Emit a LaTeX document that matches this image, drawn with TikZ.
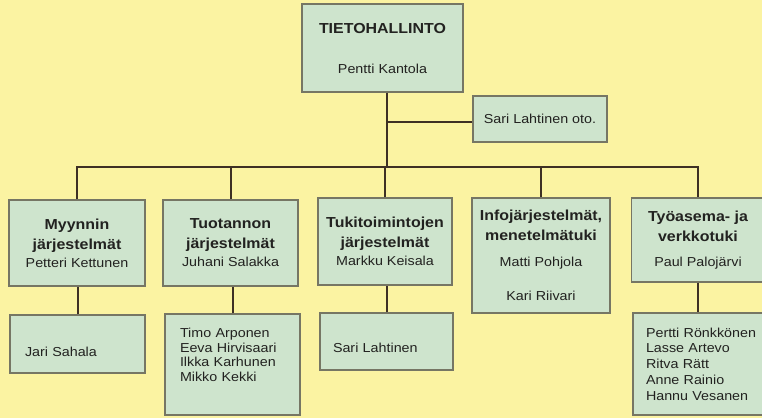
\documentclass[tikz,border=0pt]{standalone}
\usepackage{fontspec}
\setmainfont{Liberation Sans}[FakeStretch=1.1]
\definecolor{paper}{RGB}{251,243,162}
\definecolor{boxfill}{RGB}{206,228,205}
\definecolor{frame}{RGB}{118,118,100}
\definecolor{wire}{RGB}{62,48,36}
\definecolor{ink}{RGB}{34,34,32}
\newcommand{\dept}[1]{{\bfseries\fontsize{14.5}{20}\selectfont #1}}
\newcommand{\padtop}[1]{\rule{0pt}{#1}}
\newcommand{\padbot}[1]{\rule[-#1]{0pt}{#1}}
\hyphenpenalty=10000
\tikzset{
  unit/.style={draw=frame, fill=boxfill, line width=1.1pt, inner sep=0pt, align=center,
    text=ink, font=\fontsize{13}{20}\selectfont},
  staff/.style={unit, align=left, inner xsep=15pt},
  link/.style={draw=wire, line width=2pt},
}
\begin{document}
\begin{tikzpicture}[x=1pt, y=-1pt]
    \useasboundingbox (0,0) rectangle (762,418);
    \fill[paper] (0,0) rectangle (762,418);
    \clip (0,0) rectangle (762,418);
    % johto
    \node[unit, minimum width=161pt, minimum height=88pt] (head) at (382.5,48) {\dept{TIETOHALLINTO}\\[20pt]Pentti Kantola};
    \node[unit, minimum width=134pt, minimum height=46pt] (oto) at (540,119) {Sari Lahtinen oto.};
    % yksiköt
    \node[unit, minimum width=136pt, minimum height=86pt] (myynti) at (77,243) {\dept{Myynnin}\\\dept{järjestelmät}\\[-2pt]Petteri Kettunen};
    \node[unit, minimum width=135pt, minimum height=86pt] (tuotanto) at (230.5,243) {\dept{Tuotannon}\\\dept{järjestelmät}\\[-2pt]Juhani Salakka};
    \node[unit, minimum width=134pt, minimum height=87pt] (tuki) at (385,241.5) {\dept{Tukitoimintojen}\\\dept{järjestelmät}\\[-2pt]Markku Keisala};
    \node[unit, minimum width=138pt, minimum height=115pt] (info) at (541,255.5) {\dept{Infojärjestelmät,}\\\dept{menetelmätuki}\\[6pt]Matti Pohjola\\[14pt]Kari Riivari};
    \node[unit, minimum width=133pt, minimum height=84pt] (tyoasema) at (698,240) {\dept{Työasema- ja}\\\dept{verkkotuki}\\[5pt]Paul Palojärvi};
    % henkilöt
    \node[staff, text width=105pt, minimum height=58pt] (myynti-h) at (77.5,344) {\padtop{26pt}Jari Sahala};
    \node[staff, text width=105pt, minimum height=101pt, font=\fontsize{13}{14.5}\selectfont] (tuotanto-h) at (232.5,364.5)
        {Timo Arponen\\Eeva Hirvisaari\\Ilkka Karhunen\\Mikko Kekki\padbot{19pt}};
    \node[staff, inner xsep=13pt, text width=107pt, minimum height=57pt] (tuki-h) at (386.5,341.5) {\padtop{23pt}Sari Lahtinen};
    \node[staff, inner xsep=13pt, text width=120pt, minimum height=102pt, font=\fontsize{13}{15.75}\selectfont] (tyoasema-h) at (706,364)
        {Pertti Rönkkönen\\Lasse Artevo\\Ritva Rätt\\Anne Rainio\\Hannu Vesanen};
    % yhteydet
    \coordinate (trunk) at (387,167);
    \coordinate (tap) at (387,122);
    \draw[link] (head.south -| trunk) -- (trunk);
    \draw[link] (tap) -- (tap -| oto.west);
    \draw[link] (myynti.north) |- (trunk) -| (tyoasema.north);
    \foreach \unitname in {tuotanto, tuki, info}
        \draw[link] (\unitname.north) -- (\unitname.north |- trunk);
    \foreach \a/\b in {myynti/myynti-h, tuotanto/tuotanto-h, tuki/tuki-h}
        \draw[link] (\b.north) -- (\b.north |- \a.south);
    \draw[link] (tyoasema.south) -- (tyoasema.south |- tyoasema-h.north);
\end{tikzpicture}
\end{document}
